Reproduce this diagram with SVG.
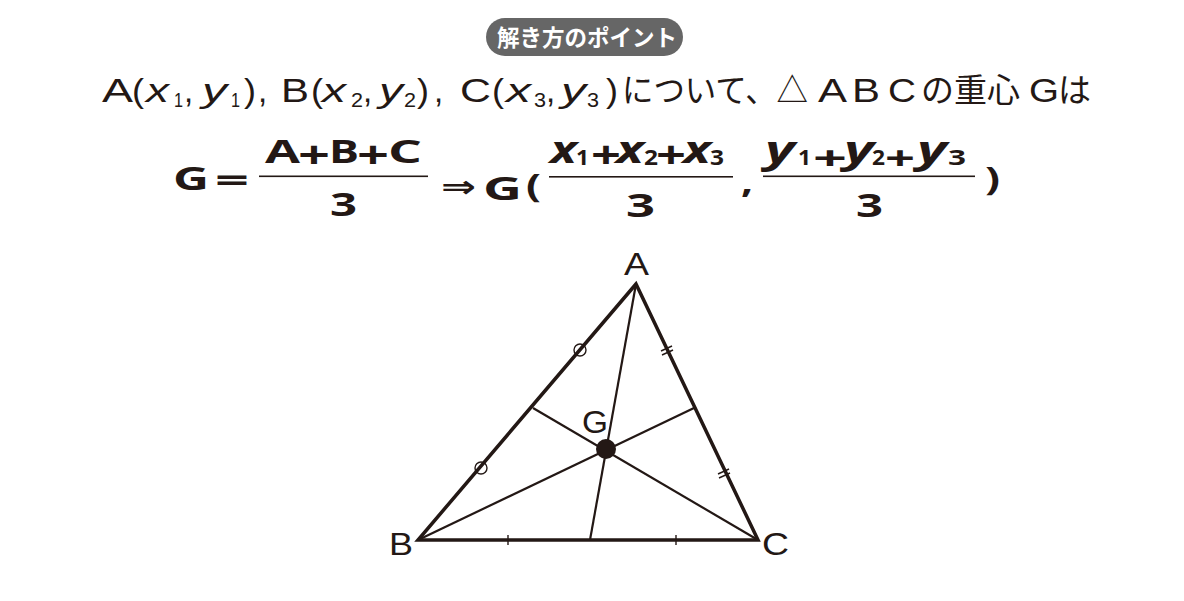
<svg xmlns="http://www.w3.org/2000/svg" width="1184" height="601" viewBox="0 0 1184 601">
<style>
.t{fill:#231815;font-family:"Liberation Sans","Noto Sans CJK JP",sans-serif;font-size:33px}
.i{font-style:italic}
.s{font-size:20px}
.j{fill:#231815;font-family:"Noto Sans CJK JP",sans-serif;font-size:33px}
.f{fill:#231815;font-family:"Open Sans","Noto Sans",sans-serif;font-weight:bold;font-size:32px}
.fi{font-style:italic;font-size:37px}
.fs{font-size:22px}
.p{font-size:38px}
.lab{fill:#231815;font-family:"Liberation Sans",sans-serif;font-size:31px}
.tri{fill:none;stroke:#231815;stroke-width:3.5;stroke-linejoin:miter}
.med{stroke:#231815;stroke-width:2.2}
.tk{stroke:#231815;stroke-width:1.4;fill:none}
</style>
<rect width="1184" height="601" fill="#ffffff"/>
<g id="badge">
<rect x="486" y="18" width="197" height="38" rx="19" fill="#666666"/>
<text x="497" y="46" fill="#ffffff" font-family="Noto Sans CJK JP,sans-serif" font-weight="bold" font-size="23" textLength="180" lengthAdjust="spacingAndGlyphs">解き方のポイント</text>
</g>
<g id="line1">
<text class="t" x="102" y="102" textLength="31" lengthAdjust="spacingAndGlyphs">A</text>
<text class="t" x="132" y="102" textLength="12" lengthAdjust="spacingAndGlyphs">(</text>
<text class="t i" x="146" y="102" textLength="23" lengthAdjust="spacingAndGlyphs">x</text>
<text class="t s" x="174" y="107" textLength="9" lengthAdjust="spacingAndGlyphs">1</text>
<text class="t" x="184" y="102">,</text>
<text class="t i" x="202" y="102" textLength="25" lengthAdjust="spacingAndGlyphs">y</text>
<text class="t s" x="231" y="107" textLength="9" lengthAdjust="spacingAndGlyphs">1</text>
<text class="t" x="244" y="102" textLength="12" lengthAdjust="spacingAndGlyphs">)</text>
<text class="t" x="258" y="102">,</text>
<text class="t" x="281" y="102" textLength="28" lengthAdjust="spacingAndGlyphs">B</text>
<text class="t" x="311" y="102" textLength="12" lengthAdjust="spacingAndGlyphs">(</text>
<text class="t i" x="322" y="102" textLength="24" lengthAdjust="spacingAndGlyphs">x</text>
<text class="t s" x="351" y="107" textLength="12" lengthAdjust="spacingAndGlyphs">2</text>
<text class="t" x="363" y="102">,</text>
<text class="t i" x="379" y="102" textLength="24" lengthAdjust="spacingAndGlyphs">y</text>
<text class="t s" x="404" y="107" textLength="12" lengthAdjust="spacingAndGlyphs">2</text>
<text class="t" x="417" y="102" textLength="12" lengthAdjust="spacingAndGlyphs">)</text>
<text class="t" x="434" y="102">,</text>
<text class="t" x="460" y="102" textLength="31" lengthAdjust="spacingAndGlyphs">C</text>
<text class="t" x="492" y="102" textLength="12" lengthAdjust="spacingAndGlyphs">(</text>
<text class="t i" x="506" y="102" textLength="25" lengthAdjust="spacingAndGlyphs">x</text>
<text class="t s" x="534" y="107" textLength="12" lengthAdjust="spacingAndGlyphs">3</text>
<text class="t" x="546" y="102">,</text>
<text class="t i" x="561" y="102" textLength="25" lengthAdjust="spacingAndGlyphs">y</text>
<text class="t s" x="587" y="107" textLength="12" lengthAdjust="spacingAndGlyphs">3</text>
<text class="t" x="606" y="102" textLength="12" lengthAdjust="spacingAndGlyphs">)</text>
<text class="j" x="622" y="102" textLength="186" lengthAdjust="spacingAndGlyphs">について、△</text>
<text class="t" x="818" y="102" textLength="29" lengthAdjust="spacingAndGlyphs">A</text>
<text class="t" x="852" y="102" textLength="28" lengthAdjust="spacingAndGlyphs">B</text>
<text class="t" x="888" y="102" textLength="28" lengthAdjust="spacingAndGlyphs">C</text>
<text class="j" x="921" y="102">の重心</text>
<text class="t" x="1029" y="102" textLength="30" lengthAdjust="spacingAndGlyphs">G</text>
<text class="j" x="1058" y="102">は</text>
</g>
<g id="formula">
<text class="f" x="173" y="190" font-size="39" textLength="36" lengthAdjust="spacingAndGlyphs">G</text>
<text class="f" x="215" y="192" font-size="39" textLength="34" lengthAdjust="spacingAndGlyphs">=</text>
<text class="f" x="265" y="163" textLength="35" lengthAdjust="spacingAndGlyphs">A</text>
<text class="f p" x="298" y="168" font-size="35" textLength="32" lengthAdjust="spacingAndGlyphs">+</text>
<text class="f" x="329" y="163" textLength="30" lengthAdjust="spacingAndGlyphs">B</text>
<text class="f p" x="357" y="168" font-size="35" textLength="32" lengthAdjust="spacingAndGlyphs">+</text>
<text class="f" x="388" y="163" textLength="34" lengthAdjust="spacingAndGlyphs">C</text>
<rect x="259" y="175.5" width="169" height="1.6" fill="#231815"/>
<text class="f" x="330" y="216" font-size="35" textLength="27" lengthAdjust="spacingAndGlyphs">3</text>
<text x="441" y="197" fill="#231815" font-family="DejaVu Sans,sans-serif" font-weight="bold" font-size="30" textLength="35" lengthAdjust="spacingAndGlyphs">⇒</text>
<text class="f" x="483" y="200" font-size="38" textLength="39" lengthAdjust="spacingAndGlyphs">G</text>
<text class="f" x="526" y="197" font-size="36" textLength="15" lengthAdjust="spacingAndGlyphs">(</text>
<text class="f fi" x="550" y="163" textLength="27" lengthAdjust="spacingAndGlyphs">x</text>
<text class="f fs" x="576" y="165" textLength="13" lengthAdjust="spacingAndGlyphs">1</text>
<text class="f p" x="591" y="168" textLength="30" lengthAdjust="spacingAndGlyphs">+</text>
<text class="f fi" x="616" y="163" textLength="28" lengthAdjust="spacingAndGlyphs">x</text>
<text class="f fs" x="644" y="165" textLength="14" lengthAdjust="spacingAndGlyphs">2</text>
<text class="f p" x="656" y="168" textLength="30" lengthAdjust="spacingAndGlyphs">+</text>
<text class="f fi" x="683" y="163" textLength="28" lengthAdjust="spacingAndGlyphs">x</text>
<text class="f fs" x="710" y="165" textLength="14" lengthAdjust="spacingAndGlyphs">3</text>
<rect x="549" y="176" width="184" height="1.6" fill="#231815"/>
<text class="f" x="626" y="217" font-size="35" textLength="29" lengthAdjust="spacingAndGlyphs">3</text>
<text class="f" x="741" y="193" font-size="34" textLength="12" lengthAdjust="spacingAndGlyphs">,</text>
<text class="f fi" x="765" y="163" textLength="30" lengthAdjust="spacingAndGlyphs">y</text>
<text class="f fs" x="798" y="165" textLength="13" lengthAdjust="spacingAndGlyphs">1</text>
<text class="f" x="813" y="170" font-size="42" textLength="34" lengthAdjust="spacingAndGlyphs">+</text>
<text class="f fi" x="844" y="163" textLength="30" lengthAdjust="spacingAndGlyphs">y</text>
<text class="f fs" x="872" y="165" textLength="13" lengthAdjust="spacingAndGlyphs">2</text>
<text class="f" x="885" y="170" font-size="42" textLength="30" lengthAdjust="spacingAndGlyphs">+</text>
<text class="f fi" x="917" y="163" textLength="30" lengthAdjust="spacingAndGlyphs">y</text>
<text class="f fs" x="948" y="165" textLength="18" lengthAdjust="spacingAndGlyphs">3</text>
<rect x="763" y="175.5" width="212" height="1.6" fill="#231815"/>
<text class="f" x="856" y="217" font-size="35" textLength="27" lengthAdjust="spacingAndGlyphs">3</text>
<text class="f" x="985" y="190" font-size="36" textLength="15" lengthAdjust="spacingAndGlyphs">)</text>
</g>
<g id="connectors">
<polygon class="tri" points="636,284 418,540 758,540"/>
<line class="med" x1="636" y1="284" x2="590" y2="540"/>
<line class="med" x1="418" y1="540" x2="694" y2="408"/>
<line class="med" x1="758" y1="540" x2="533" y2="408"/>
<circle class="tk" cx="580" cy="350" r="6"/>
<circle class="tk" cx="481" cy="468" r="6"/>
<line class="tk" x1="508" y1="535" x2="508" y2="545"/>
<line class="tk" x1="676" y1="535" x2="676" y2="545"/>
<line class="tk" x1="661" y1="351" x2="672" y2="346"/>
<line class="tk" x1="662" y1="355" x2="673" y2="350"/>
<line class="tk" x1="718" y1="474" x2="729" y2="469"/>
<line class="tk" x1="719" y1="478" x2="730" y2="473"/>
</g>
<g id="node-G">
<circle cx="606" cy="449" r="10" fill="#231815"/>
<text class="lab" x="582" y="433" textLength="26" lengthAdjust="spacingAndGlyphs">G</text>
</g>
<g id="node-A"><text class="lab" x="624" y="275" textLength="25" lengthAdjust="spacingAndGlyphs">A</text></g>
<g id="node-B"><text class="lab" x="389" y="555" textLength="24" lengthAdjust="spacingAndGlyphs">B</text></g>
<g id="node-C"><text class="lab" x="762" y="555" textLength="27" lengthAdjust="spacingAndGlyphs">C</text></g>
</svg>
